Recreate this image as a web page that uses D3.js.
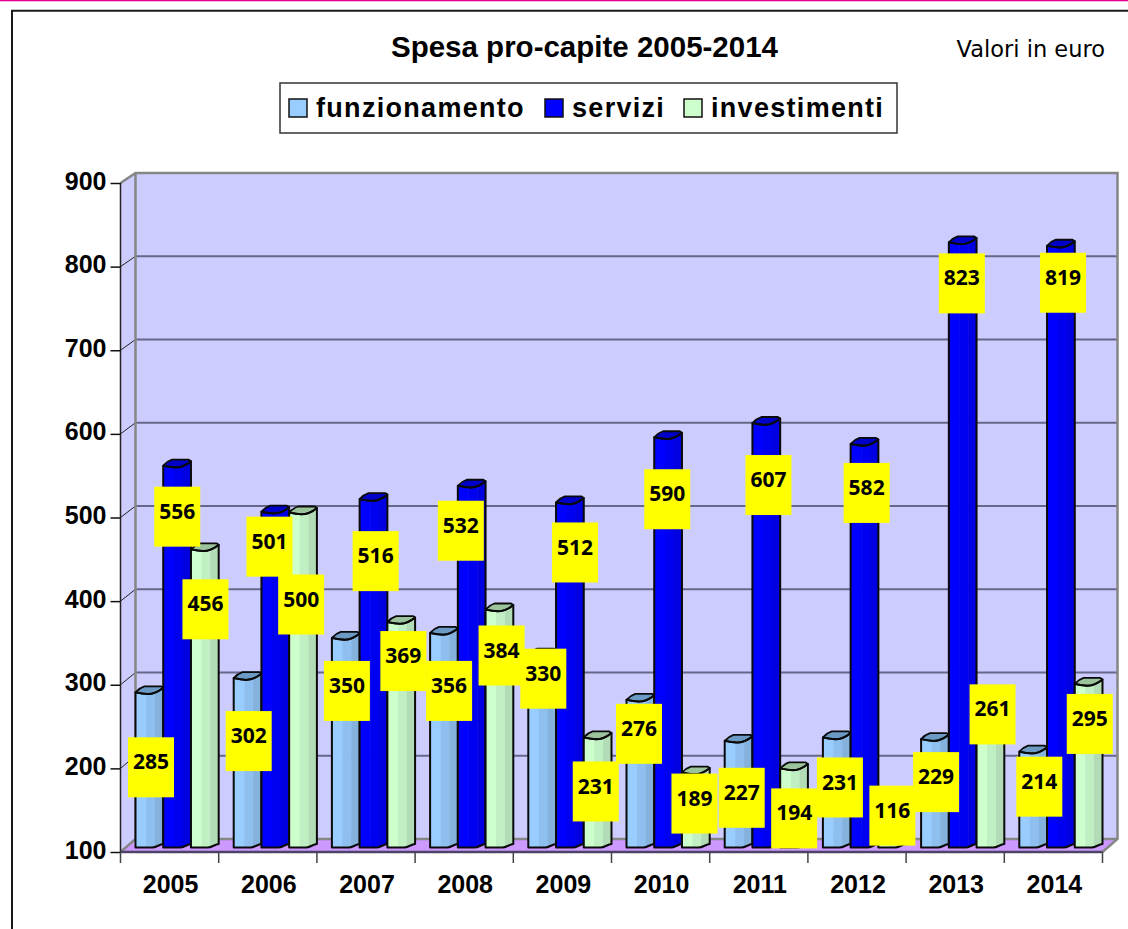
<!DOCTYPE html>
<html><head><meta charset="utf-8">
<script src="https://cdn.jsdelivr.net/npm/d3@7"></script>
<style>html,body{margin:0;padding:0;background:#fff;overflow:hidden}svg{display:block}</style>
</head><body><svg id="c" width="1128" height="929"></svg>
<script>
const years = ["2005","2006","2007","2008","2009","2010","2011","2012","2013","2014"];
const seriesNames = ["funzionamento","servizi","investimenti"];
const funzionamento = [285,302,350,356,330,276,227,231,229,214];
const servizi = [556,501,516,532,512,590,607,582,823,819];
const investimenti = [456,500,369,384,231,189,194,116,261,295];
const yTicks = [100,200,300,400,500,600,700,800,900];
// hand-placed data label offsets (box left/top relative to bar left / value position)
const labelDxFunz = [-7.5,-8,-8,-4,-8,-10.5,-6,-6,-8,-3];
const labelDyFunz = [40,28,18,23,-11,-1,22,15,8,0];
const labelDxServ = [-9,-15,-7,-20,-4,-10,-7,-7,-10,-7];
const labelDyServ = [16,0,27,10,15,27,27,14,6,2];
const labelDxInv = [-8.5,-11,-7,-7,-11,-10.5,-9,-9,-7,-8];
const labelDyInv = [25,57,4,11,19,-4,15,-53,-33,5];

const palettes = [
  {bands:["#99ccff","#8fbfee","#85b2dd"], top:"#6b9ac4", sw:"#99ccff"},
  {bands:["#0000ff","#0000f0","#0000e0"], top:"#0000c8", sw:"#0000ff"},
  {bands:["#ccffcc","#c0efc4","#b2dcb6"], top:"#9cc49c", sw:"#ccffcc"}
];
const svg = d3.select("#c");
const sans = "'Liberation Sans', Arial, sans-serif";
const L = 120.5, R = 1102.5, F = 852, T = 183, DX = 15, BK = 839, BT = 173;
const y = d3.scaleLinear().domain([100,900]).range([F,T]);
const yBack = d3.scaleLinear().domain([100,900]).range([BK,BT]);
const x = d3.scaleBand().domain(years).range([L,R]);
const xs = d3.scaleBand().domain(seriesNames).range([DX, x.bandwidth()]);

// page frame
svg.append("rect").attr("x",0).attr("y",0).attr("width",1128).attr("height",1.3).attr("fill","#e6009a");
svg.append("path").attr("d","M1128,10.8H12V929").attr("fill","none").attr("stroke","#1a1a1a").attr("stroke-width",2);

// 3D walls
svg.append("rect").attr("x",L+DX).attr("y",BT).attr("width",R-L).attr("height",BK-BT).attr("fill","#ccccff");
svg.append("path").attr("d",`M${L},${T}L${L+DX},${BT}V${BK}L${L},${F}Z`).attr("fill","#ccccff");
svg.append("path").attr("d",`M${L},${F}L${L+DX},${BK}H${R+DX}L${R},${F}Z`).attr("fill","#cc99ff");
yTicks.filter(t=>t>100&&t<900).forEach(t=>{
  svg.append("line").attr("x1",L+DX).attr("x2",R+DX).attr("y1",yBack(t)).attr("y2",yBack(t)).attr("stroke","#67678a").attr("stroke-width",2);
  svg.append("line").attr("x1",L).attr("x2",L+DX).attr("y1",y(t)).attr("y2",yBack(t)).attr("stroke","#222").attr("stroke-width",1);
});
svg.append("path").attr("d",`M${L},${T}L${L+DX},${BT}H${R+DX}V${BK}L${R},${F}M${L+DX},${BT}V${BK}H${R+DX}M${L+DX},${BK}L${L},${F}`)
  .attr("fill","none").attr("stroke","#868686").attr("stroke-width",2.5);

// axes
const yAxis = d3.axisLeft(y).tickValues(yTicks).tickSize(10).tickPadding(4);
const gy = svg.append("g").attr("transform",`translate(${L},0)`).call(yAxis);
gy.select(".domain").attr("stroke","#222").attr("stroke-width",1.5).attr("d",`M0,${T}V${F}`);
gy.selectAll(".tick line").attr("stroke","#111").attr("stroke-width",1.5);
gy.selectAll("text").attr("font-family",sans).attr("font-weight","bold").attr("font-size",25).attr("fill","#000").attr("y",-2);

const xAxis = d3.axisBottom(x).tickSize(0).tickPadding(23.5);
const gx = svg.append("g").attr("transform",`translate(1,${F})`).call(xAxis);
gx.select(".domain").remove();
gx.selectAll("text").attr("font-family",sans).attr("font-weight","bold").attr("font-size",25).attr("fill","#000");
svg.append("line").attr("x1",L).attr("x2",R).attr("y1",F).attr("y2",F).attr("stroke","#4d4366").attr("stroke-width",2.5);
years.concat("end").forEach((d,i)=>{
  const px = L + i*x.bandwidth();
  svg.append("line").attr("x1",px).attr("x2",px).attr("y1",F).attr("y2",F+11).attr("stroke","#444").attr("stroke-width",1.5);
});

// bars
const BASE = F-4.5, LIFT = 5;
const defs = svg.append("defs");
const allSeries = [funzionamento,servizi,investimenti];
const frontEdge = (x0,w,yt)=>`C${x0+w*.85},${yt-1} ${x0+w*.65},${yt+1.8} ${x0+w*.45},${yt+1.8}C${x0+w*.3},${yt+1.8} ${x0+w*.15},${yt+1} ${x0},${yt}Z`;
const barOutline = (x0,w,yt)=>{
  const bot = Math.max(BASE, yt);
  return `M${x0},${yt}V${bot}H${x0+w*.6}C${x0+w*.75},${bot} ${x0+w*.85},${bot-3} ${x0+w},${bot-3.5}V${yt-4.5}`+frontEdge(x0,w,yt);
};
const barTop = (x0,w,yt)=>`M${x0},${yt}C${x0+w*.1},${yt-3} ${x0+w*.2},${yt-5} ${x0+w*.32},${yt-6}H${x0+w*.92}L${x0+w},${yt-4.5}`+frontEdge(x0,w,yt);
years.forEach((yr,i)=>{
  seriesNames.forEach((s,k)=>{
    const v = allSeries[k][i];
    const x0 = x(yr)+xs(s), w = xs.bandwidth(), yt = y(v)-LIFT, p = palettes[k];
    const id = `b${i}_${k}`;
    defs.append("clipPath").attr("id",id).append("path").attr("d",barOutline(x0,w,yt));
    const g = svg.append("g");
    const stops = [0,.38,.7,1];
    p.bands.forEach((c,j)=>{
      g.append("rect").attr("clip-path",`url(#${id})`).attr("x",x0+w*stops[j]).attr("width",w*(stops[j+1]-stops[j])+.5)
       .attr("y",yt-6).attr("height",F-yt+6).attr("fill",c);
    });
    g.append("path").attr("d",barTop(x0,w,yt)).attr("fill",p.top).attr("stroke","#0a0a0a").attr("stroke-width",1.8).attr("stroke-linejoin","round");
    g.append("path").attr("d",barOutline(x0,w,yt)).attr("fill","none").attr("stroke","#0a0a0a").attr("stroke-width",2).attr("stroke-linejoin","round");
  });
});

// data labels
const labelDx = [labelDxFunz,labelDxServ,labelDxInv], labelDy = [labelDyFunz,labelDyServ,labelDyInv];
const BW = 46, BH = 60;
const labels = [];
years.forEach((yr,i)=>seriesNames.forEach((s,k)=>labels.push({v:allSeries[k][i],x:x(yr)+xs(s)+labelDx[k][i],y:y(allSeries[k][i])+labelDy[k][i]})));
svg.selectAll("rect.lb").data(labels).join("rect").attr("class","lb").attr("x",d=>d.x).attr("y",d=>d.y).attr("width",BW).attr("height",BH).attr("fill","#ffff00");
svg.selectAll("text.lb").data(labels).join("text").attr("class","lb").attr("x",d=>d.x+BW/2).attr("y",d=>d.y+24.5).attr("dy","0.36em")
  .attr("text-anchor","middle").attr("font-family","'Noto Sans',sans-serif").attr("font-weight","bold").attr("font-size",21).attr("fill","#000").text(d=>d.v);

// title and note
svg.append("text").attr("x",584.5).attr("y",57).attr("text-anchor","middle").attr("font-family",sans).attr("font-weight","bold").attr("font-size",29.5).attr("fill","#000").text("Spesa pro-capite 2005-2014");
svg.append("text").attr("x",1105).attr("y",57).attr("text-anchor","end").attr("font-family","'DejaVu Sans',sans-serif").attr("font-size",22.5).attr("fill","#000").text("Valori in euro");

// legend
svg.append("rect").attr("x",280).attr("y",83).attr("width",617).attr("height",50).attr("fill","#fff").attr("stroke","#333").attr("stroke-width",1.5);
const legX = [289,545,684];
seriesNames.forEach((s,k)=>{
  svg.append("rect").attr("x",legX[k]).attr("y",99).attr("width",18).attr("height",18).attr("fill",palettes[k].sw).attr("stroke","#111").attr("stroke-width",1.5);
  svg.append("text").attr("x",legX[k]+27).attr("y",117).attr("font-family",sans).attr("font-weight","bold").attr("font-size",27).attr("letter-spacing",1.3).attr("fill","#000").text(s);
});
</script></body></html>
